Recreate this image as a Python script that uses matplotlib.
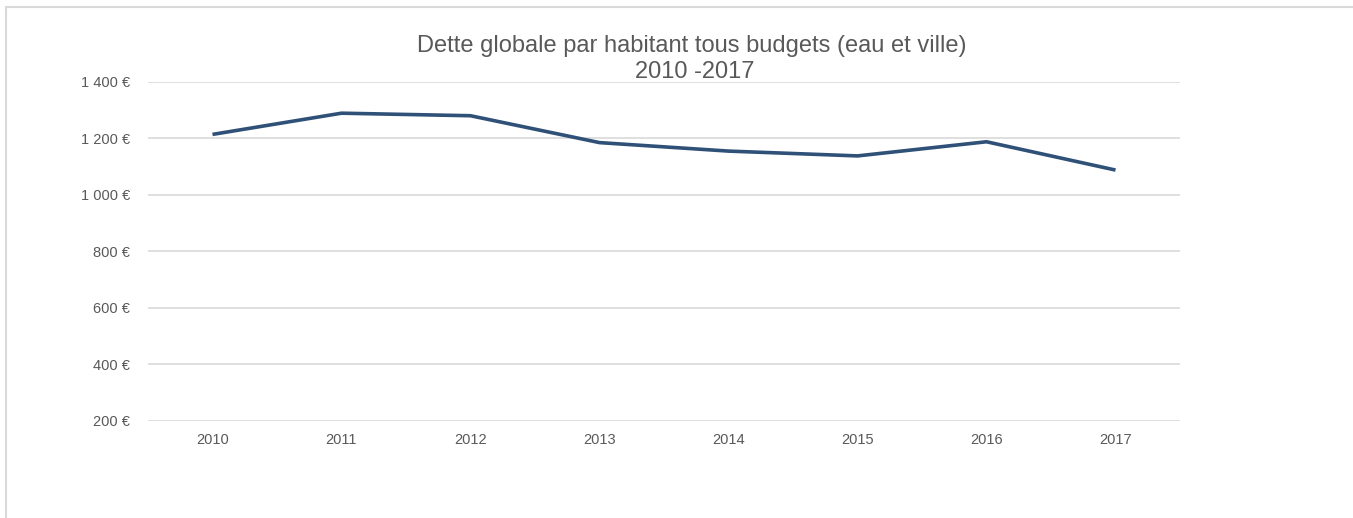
import numpy as np
import matplotlib
matplotlib.use("Agg")
import matplotlib.pyplot as plt
from matplotlib.patches import Rectangle

# donnees
annees = ["2010", "2011", "2012", "2013", "2014", "2015", "2016", "2017"]
dette = [1213, 1288, 1279, 1184, 1154, 1137, 1187, 1087]
graduations = [200, 400, 600, 800, 1000, 1200, 1400]

plt.rcParams['font.family'] = ['Liberation Sans', 'DejaVu Sans']

gris_texte = '#595959'
gris_grille = '#d9d9d9'

fig = plt.figure(figsize=(13.53, 5.18), dpi=100)
ax = fig.add_axes([148/1353, 1 - 421/518, (1180 - 148)/1353, (421 - 81.5)/518])

x_pos = np.arange(len(annees))
ax.plot(x_pos, dette, color='#2f5178', linewidth=2.6, solid_capstyle='butt')

ax.set_xlim(-0.5, len(annees) - 0.5)
ax.set_ylim(200, 1400)
ax.set_yticks(graduations)
ax.set_yticklabels([f"{v:,}".replace(",", " ") + " €" for v in graduations])
ax.set_xticks(x_pos)
ax.set_xticklabels(annees)

ax.grid(axis='y', color=gris_grille, linewidth=1.2)
ax.set_axisbelow(True)
for s in ax.spines.values():
    s.set_visible(False)
ax.tick_params(length=0, colors=gris_texte, labelsize=10.5)
ax.tick_params(axis='y', pad=13)
ax.tick_params(axis='x', pad=9)

# titre
fig.text(692/1353, 1 - 52/518, "Dette globale par habitant tous budgets (eau et ville)",
         ha='center', va='baseline', fontsize=17, color=gris_texte)
fig.text(695/1353, 1 - 78/518, "2010 -2017",
         ha='center', va='baseline', fontsize=17, color=gris_texte)

# cadre du graphique
fig.patches.append(Rectangle((6/1353, -0.1), 1.2, 1 - 7.5/518 + 0.1,
                             transform=fig.transFigure, fill=False,
                             edgecolor=gris_grille, linewidth=1.5))

fig.savefig('out.png', dpi=100)
